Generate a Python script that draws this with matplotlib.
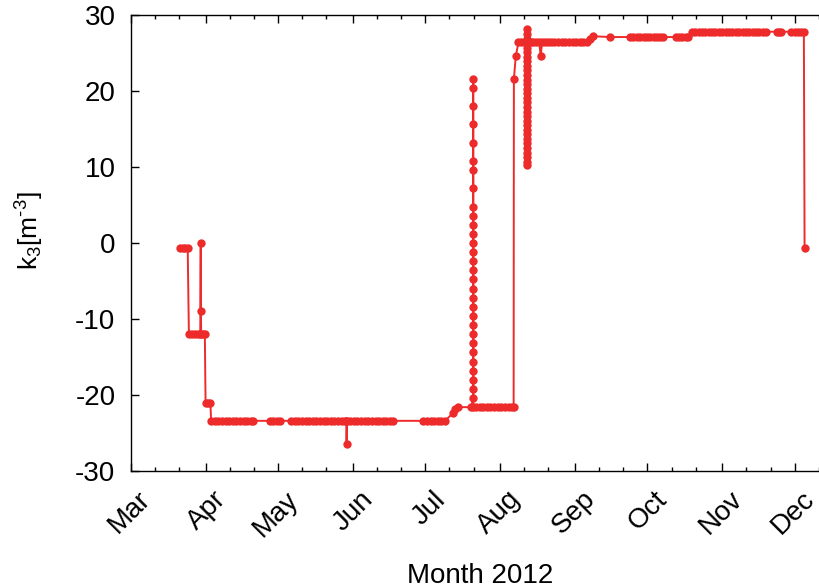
import numpy as np
import matplotlib
matplotlib.use("Agg")
import matplotlib.pyplot as plt
import matplotlib.dates as mdates
from matplotlib.transforms import ScaledTranslation
import datetime as dt

plt.rcParams['font.family'] = ['Liberation Sans', 'DejaVu Sans']
plt.rcParams['axes.unicode_minus'] = False
plt.rcParams['mathtext.fontset'] = 'custom'
plt.rcParams['mathtext.rm'] = 'Liberation Sans'
plt.rcParams['mathtext.it'] = 'Liberation Sans'
plt.rcParams['mathtext.default'] = 'regular'

# ---------------- data (days since 2012-03-01, k3 values) ----------------
# late March / early April steps
mar_days = [20.6, 21.6, 22.6, 23.6, 24.1, 25.3, 26.5, 27.7, 28.8, 29.0, 29.05,
            29.2, 30.0, 30.7, 31.0, 32.0, 33.0]
mar_k3 = [-0.6, -0.6, -0.6, -0.6, -12.0, -12.0, -12.0, -12.0, -12.0, 0.0, -9.0,
          -12.0, -12.0, -12.0, -21.0, -21.0, -21.0]

# April - early July plateau (with a dip end of May)
plat_days = [33.3, 34.8, 36.3, 37.8, 39.3, 40.8, 42.3, 43.8, 45.3, 46.8, 48.3, 49.8, 50.6,
             57.7, 59.0, 60.4, 61.8,
             66.4, 67.9, 69.4, 70.9, 72.4, 73.9, 75.4, 76.9, 78.4, 79.9, 81.4, 82.9, 84.4,
             85.9, 87.4, 88.9, 89.3, 89.4, 89.6, 90.9, 92.4, 93.9, 95.4, 96.9, 98.4, 99.9,
             101.4, 102.9, 104.4, 105.9, 107.4, 108.6,
             121.2, 122.7, 124.2, 125.7, 127.2, 128.7, 130.2]
plat_k3 = [-23.4] * 13 + [-23.4] * 4 + [-23.4] * 17 + [-26.4] + [-23.4] * 14 + [-23.4] * 7

# July transition
jul_days = [133.4, 134.4, 135.6, 141.0]
jul_k3 = [-22.4, -21.9, -21.6, -21.6]

# vertical column on 21 July
col1_day = 141.85
col1_k3 = [-20.4, -19.2, -18.0, -16.8, -15.6, -14.4, -13.2, -12.0, -10.8, -9.6, -8.4,
           -7.2, -6.0, -4.8, -3.6, -2.4, -1.2, 0.0, 1.2, 2.4, 3.6, 4.8, 7.2, 9.6,
           10.8, 13.2, 15.6, 18.0, 20.4, 21.6]

# late July plateau
julp_days = [141.9, 143.0, 144.5, 146.0, 147.5, 149.0, 150.5, 152.0, 153.5, 155.0,
             156.5, 158.0, 158.6]
julp_k3 = [-21.6] * 13

# August jump
aug_days = [158.7, 159.5, 160.6, 161.8, 163.0, 164.0]
aug_k3 = [21.6, 24.6, 26.4, 26.4, 26.4, 26.4]

# dense column in mid August
col2_day = 164.2
col2_k3 = [28.1, 27.5, 26.9, 26.3, 25.7, 25.1, 24.5, 23.9, 23.3, 22.7, 22.1, 21.5,
           20.9, 20.3, 19.7, 19.1, 18.5, 17.9, 17.3, 16.7, 16.1, 15.5, 14.9, 14.3,
           13.7, 13.1, 12.5, 11.9, 11.3, 10.7, 10.3]

# August plateau
augp_days = [164.4, 165.6, 166.8, 168.0, 169.2, 169.8, 170.4, 171.6, 172.8, 174.0,
             175.5, 177.0, 178.5, 180.0, 181.5, 183.0, 184.5, 186.0, 187.5, 189.0]
augp_k3 = [26.4] * 5 + [24.6] + [26.4] * 14

# September - December
aut_days = [190.3, 191.5, 198.6,
            206.8, 208.2, 209.6, 211.0, 212.4, 213.8, 215.2, 216.6, 218.0, 219.4, 220.5,
            225.9, 227.2, 228.5, 229.8, 230.8,
            232.4, 233.8, 235.2, 236.6, 238.0, 239.4, 240.8, 242.2, 243.6, 245.0, 246.4,
            247.8, 249.2, 250.6, 252.0, 253.4, 254.8, 256.2, 257.6, 259.0, 260.4, 261.8,
            263.1, 267.6, 268.5, 269.3, 273.6, 275.0, 276.4, 277.6, 278.8, 279.1]
aut_k3 = [26.8, 27.2, 27.1] + [27.1] * 11 + [27.1] * 5 + [27.8] * 23 + [27.8] * 3 \
         + [27.8] * 5 + [-0.6]

days = np.concatenate([mar_days, plat_days, jul_days, np.full(len(col1_k3), col1_day),
                       julp_days, aug_days, np.full(len(col2_k3), col2_day), augp_days,
                       aut_days])
k3 = np.concatenate([mar_k3, plat_k3, jul_k3, col1_k3, julp_k3, aug_k3, col2_k3,
                     augp_k3, aut_k3])

base = mdates.date2num(dt.datetime(2012, 3, 1))
x = base + days

# ---------------- figure ----------------
red = '#EE2B2B'
fig = plt.figure(figsize=(8.2, 5.88), dpi=100)
ax = fig.add_axes([0.1594, 0.1990, 0.8430, 0.7755])

ax.plot(x, k3, '-o', color=red, lw=1.4, ms=6.0, mew=0)

ax.set_xlim(base, base + 286.3)
ax.set_ylim(-30, 30)
ax.set_yticks([-30, -20, -10, 0, 10, 20, 30])

ax.xaxis.set_major_locator(mdates.MonthLocator())
ax.xaxis.set_major_formatter(mdates.DateFormatter('%b'))
ax.xaxis.set_minor_locator(mdates.DayLocator(bymonthday=[11, 21]))

for s in ax.spines.values():
    s.set_linewidth(1.0)

ax.tick_params(axis='both', which='major', direction='in', length=5.6, width=1.0,
               top=True, right=False, labelsize=20, pad=11)
ax.tick_params(axis='x', which='minor', direction='in', length=2.9, width=1.0,
               top=True, bottom=True)
ax.tick_params(axis='y', which='minor', left=False, right=False)

shift = ScaledTranslation(7 / 100, 0, fig.dpi_scale_trans)
for lbl in ax.get_xticklabels():
    lbl.set_rotation(45)
    lbl.set_ha('right')
    lbl.set_va('top')
    lbl.set_rotation_mode('anchor')
    lbl.set_transform(lbl.get_transform() + shift)

fig.text(30 / 820, 1 - 231 / 588, r'k$_3$[m$^{\text{-}3}$]', rotation=90, ha='center',
         va='center', fontsize=19)
fig.text(480 / 820, 1 - 576 / 588, 'Month 2012', ha='center', va='center', fontsize=20)

fig.savefig('out.png', dpi=100)
